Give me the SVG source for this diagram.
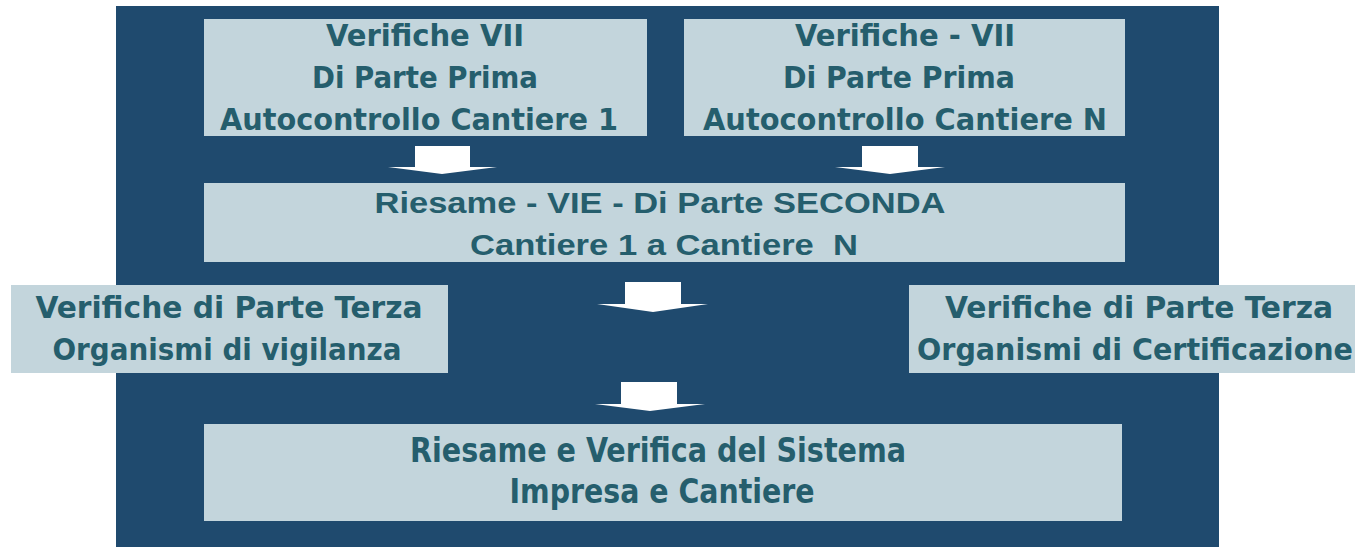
<svg xmlns="http://www.w3.org/2000/svg" width="1355" height="547" viewBox="0 0 1355 547">
<style>
.box{fill:#c3d5dc}
.t{font-family:"DejaVu Sans Condensed","DejaVu Sans","Liberation Sans",sans-serif;font-weight:bold;font-size:31px;fill:#255e6d;text-anchor:middle}
.a{font-family:"Liberation Sans",Arial,sans-serif;font-weight:bold;font-size:29px;fill:#255e6d;text-anchor:middle;white-space:pre}
.c{font-family:"DejaVu Sans Condensed","DejaVu Sans",sans-serif;font-weight:bold;font-size:34px;fill:#255e6d;text-anchor:middle}
.arr{fill:#ffffff}
</style>
<rect x="0" y="0" width="1355" height="547" fill="#ffffff"/>
<rect id="background" x="116" y="6" width="1103" height="541" fill="#1f4a6e"/>
<g id="n1">
<rect class="box" x="204" y="19" width="443" height="117"/>
<text class="t" x="425" y="46" textLength="198" lengthAdjust="spacingAndGlyphs">Verifiche VII</text>
<text class="t" x="425" y="88" textLength="226" lengthAdjust="spacingAndGlyphs">Di Parte Prima</text>
<text class="t" x="419" y="130" textLength="398" lengthAdjust="spacingAndGlyphs">Autocontrollo Cantiere 1</text>
</g>
<g id="n2">
<rect class="box" x="684" y="19" width="441" height="117"/>
<text class="t" x="905" y="46" textLength="220" lengthAdjust="spacingAndGlyphs">Verifiche - VII</text>
<text class="t" x="899" y="88" textLength="232" lengthAdjust="spacingAndGlyphs">Di Parte Prima</text>
<text class="t" x="905" y="130" textLength="404" lengthAdjust="spacingAndGlyphs">Autocontrollo Cantiere N</text>
</g>
<g id="n3">
<rect class="box" x="204" y="183" width="921" height="79"/>
<text class="a" x="660" y="213" textLength="571" lengthAdjust="spacingAndGlyphs">Riesame - VIE - Di Parte SECONDA</text>
<text class="a" x="664" y="255" textLength="388" lengthAdjust="spacingAndGlyphs">Cantiere 1 a Cantiere  N</text>
</g>
<g id="n4">
<rect class="box" x="11" y="285" width="437" height="88"/>
<text class="t" x="229" y="318" textLength="387" lengthAdjust="spacingAndGlyphs">Verifiche di Parte Terza</text>
<text class="t" x="227" y="360" textLength="349" lengthAdjust="spacingAndGlyphs">Organismi di vigilanza</text>
</g>
<g id="n5">
<rect class="box" x="909" y="285" width="446" height="88"/>
<text class="t" x="1139" y="318" textLength="388" lengthAdjust="spacingAndGlyphs">Verifiche di Parte Terza</text>
<text class="t" x="1135" y="360" textLength="436" lengthAdjust="spacingAndGlyphs">Organismi di Certificazione</text>
</g>
<g id="n6">
<rect class="box" x="204" y="424" width="918" height="97"/>
<text class="c" x="658" y="462" textLength="496" lengthAdjust="spacingAndGlyphs">Riesame e Verifica del Sistema</text>
<text class="c" x="662" y="503" textLength="305" lengthAdjust="spacingAndGlyphs">Impresa e Cantiere</text>
</g>
<g id="connectors">
<polygon class="arr" points="415,146 470,146 470,167 497,167 442,174 388,167 415,167"/>
<polygon class="arr" points="862,146 918,146 918,167 945,167 890,174 835,167 862,167"/>
<polygon class="arr" points="625,282 681,282 681,304 708,304 653,312 597,304 625,304"/>
<polygon class="arr" points="621,382 677,382 677,404 705,404 650,411 595,404 621,404"/>
</g>
</svg>
